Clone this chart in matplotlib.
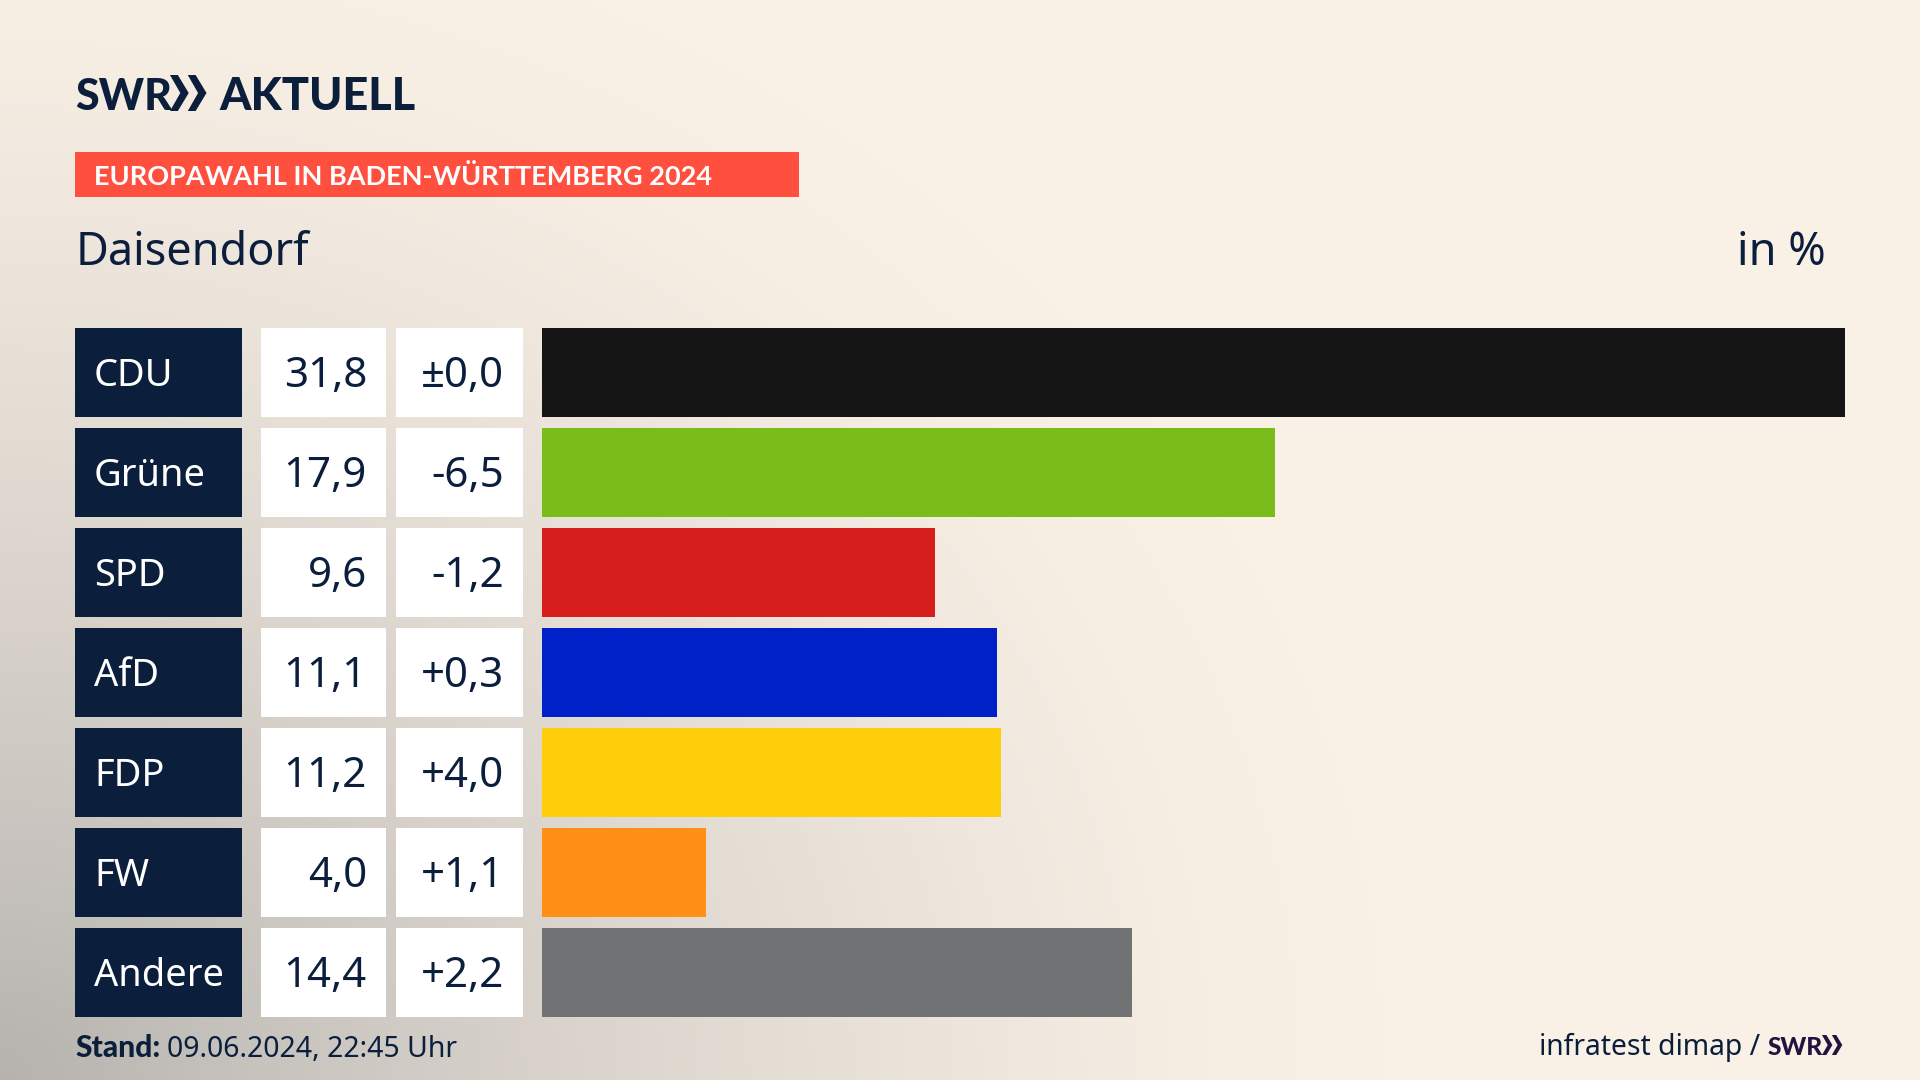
#!/usr/bin/env python3

import matplotlib
matplotlib.use('Agg')
import matplotlib.pyplot as plt
import numpy as np
from matplotlib.patches import Polygon, Rectangle

parties = ['CDU', 'Grüne', 'SPD', 'AfD', 'FDP', 'FW', 'Andere']
shares = [31.8, 17.9, 9.6, 11.1, 11.2, 4.0, 14.4]
changes = ['±0,0', '-6,5', '-1,2', '+0,3', '+4,0', '+1,1', '+2,2']
colors = ['#141414', '#7abd1a', '#d61f1c', '#0020c8', '#ffce0a', '#ff8f16', '#707274']

W, H = 1920, 1080
NAVY = '#0b1f3d'
FONT = 'Noto Sans'
BOLD = 'Lato'
ROW_TOP, ROW_PITCH, ROW_H = 328, 100, 88.5


def pt(px):
    return px * 72 / 100


def chevrons(ax, x, y, h, color):
    # the two arrows of the SWR logo
    w = h * 0.52
    for dx in (0, w * 0.95):
        x0 = x + dx
        ax.add_patch(Polygon([(x0, y), (x0 + w * 0.42, y), (x0 + w, y + h / 2),
                              (x0 + w * 0.42, y + h), (x0, y + h), (x0 + w * 0.55, y + h / 2)],
                             closed=True, color=color, lw=0))


fig = plt.figure(figsize=(W / 100, H / 100), dpi=100)

ax = fig.add_axes([0, 0, 1, 1])
ax.set_xlim(0, W)
ax.set_ylim(H, 0)
ax.axis('off')

# background: cream with grey shade from the lower left corner
xx, yy = np.meshgrid(np.linspace(0, 1, 480), np.linspace(0, 1, 270))
dist = np.sqrt((xx / 0.72) ** 2 + ((1 - yy) / 1.1) ** 2)
shade = np.clip(1 - dist, 0, 1) ** 1.4 * 0.62
cream = np.array([0xfa, 0xf1, 0xe6]) / 255
grey = np.array([0x8c, 0x8d, 0x8e]) / 255
bg = cream[None, None, :] * (1 - shade[..., None]) + grey[None, None, :] * shade[..., None]
ax.imshow(bg, extent=[0, W, H, 0], aspect='auto', interpolation='bilinear', zorder=0)

# logo
ax.text(75, 110, 'SWR', family=BOLD, weight='black', fontsize=pt(43), color=NAVY, va='baseline')
chevrons(ax, 170, 75, 36, NAVY)
ax.text(219, 110, 'AKTUELL', family=BOLD, weight='black', fontsize=pt(45), color=NAVY, va='baseline')

# header
ax.add_patch(Rectangle((75, 152), 724, 45, color='#ff4f3f', lw=0))
ax.text(94, 185, 'EUROPAWAHL IN BADEN-WÜRTTEMBERG 2024', family=BOLD, weight='bold',
        fontsize=pt(27.1), color='white', va='baseline')
ax.text(76, 265, 'Daisendorf', family=FONT, fontsize=pt(45), color=NAVY, va='baseline')
ax.text(1826, 265, 'in %', family=FONT, fontsize=pt(45), color=NAVY, va='baseline', ha='right')

# table cells left of the bars
for i, party in enumerate(parties):
    top = ROW_TOP + i * ROW_PITCH
    base = top + ROW_H / 2 + 14
    ax.add_patch(Rectangle((75, top), 167, ROW_H, color=NAVY, lw=0))
    ax.add_patch(Rectangle((261, top), 125, ROW_H, color='white', lw=0))
    ax.add_patch(Rectangle((396, top), 127, ROW_H, color='white', lw=0))
    ax.text(94, base, party, family=FONT, fontsize=pt(38), color='white', va='baseline')
    ax.text(367, base + 1, f'{shares[i]:.1f}'.replace('.', ','), family=FONT, fontsize=pt(42),
            color=NAVY, va='baseline', ha='right')
    ax.text(504, base + 1, changes[i], family=FONT, fontsize=pt(42), color=NAVY, va='baseline', ha='right')

# bars
bar_top = ROW_TOP + ROW_H / 2 - ROW_PITCH / 2
ax_bars = fig.add_axes([542 / W, 1 - (bar_top + 7 * ROW_PITCH) / H, 1303 / W, 7 * ROW_PITCH / H])
ax_bars.barh(range(len(parties)), shares, height=ROW_H / ROW_PITCH, color=colors)
ax_bars.set_xlim(0, max(shares))
ax_bars.set_ylim(len(parties) - 0.5, -0.5)
ax_bars.axis('off')

# footer
ax.text(75, 1057, 'Stand:', family=BOLD, weight='black', fontsize=pt(30), color=NAVY, va='baseline')
ax.text(167, 1057, '09.06.2024, 22:45 Uhr', family=FONT, fontsize=pt(28.4), color=NAVY, va='baseline')
ax.text(1760, 1055, 'infratest dimap /', family=FONT, fontsize=pt(28.3), color=NAVY, va='baseline', ha='right')
ax.text(1768, 1055, 'SWR', family=BOLD, weight='black', fontsize=pt(24.5), color='#24123f', va='baseline')
chevrons(ax, 1822, 1035, 20, '#24123f')

fig.savefig('out.png', dpi=100)
